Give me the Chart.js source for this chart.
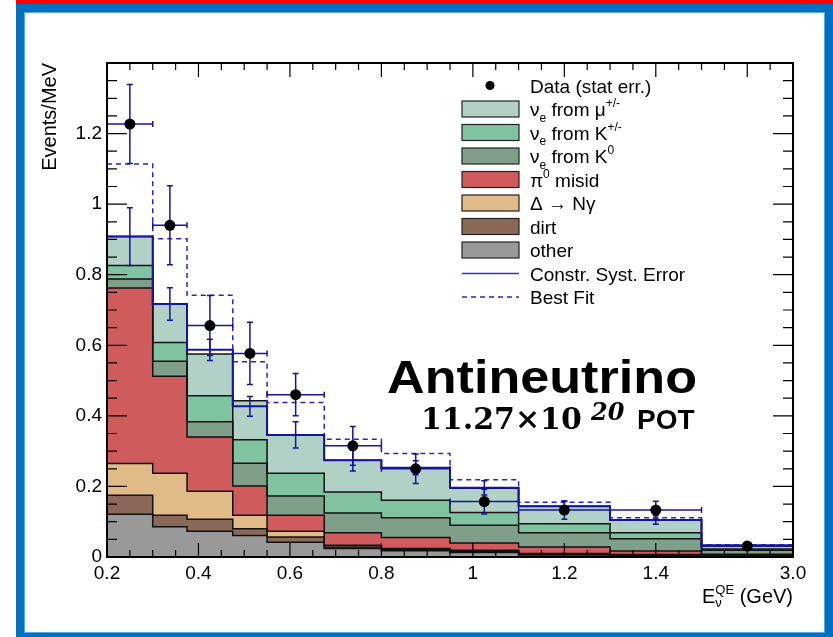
<!DOCTYPE html>
<html>
<head>
<meta charset="utf-8">
<script src="https://cdn.jsdelivr.net/npm/chart.js@4.4.1/dist/chart.umd.min.js"></script>
<style>
  html, body { margin: 0; padding: 0; background: #fff; }
  #wrap { position: relative; width: 833px; height: 637px; overflow: hidden; }
  #topbar { position: absolute; left: 16px; top: 0; width: 817px; height: 4px; background: #ff0000; }
  #frame { position: absolute; left: 16px; top: 4px; width: 817px; height: 633px; box-sizing: border-box;
           border-style: solid; border-color: #0070c0; border-width: 8px 8px 4px 8px; }
  #frame::after { content: ''; position: absolute; left: 0; top: 0; right: 0; bottom: 0; border: 1px solid #5aa9e6; }
  canvas { position: absolute; left: 0; top: 0; }
</style>
</head>
<body>
<div id="wrap">
  <div id="topbar"></div>
  <div id="frame"></div>
  <canvas id="chart" width="833" height="637"></canvas>
</div>
<script>
// bin edges in GeV; the last bin (1.5 - 3.0) is squeezed onto the axis
const binEdges = [0.2, 0.3, 0.375, 0.475, 0.55, 0.675, 0.8, 0.95, 1.1, 1.3, 1.5, 3.0];

// predicted backgrounds in Events/MeV, bottom of the stack first
const other    = [0.121, 0.086, 0.073, 0.061, 0.042, 0.024, 0.018, 0.013, 0.006, 0.004, 0.002];
const dirt     = [0.054, 0.032, 0.034, 0.019, 0.015, 0.004, 0.004, 0.003, 0.002, 0.001, 0.001];
const deltaNg  = [0.090, 0.119, 0.079, 0.038, 0.016, 0.005, 0.002, 0.003, 0.002, 0.002, 0.001];
const pi0Misid = [0.497, 0.275, 0.154, 0.083, 0.045, 0.036, 0.031, 0.021, 0.018, 0.010, 0.004];
const nueK0    = [0.026, 0.043, 0.043, 0.065, 0.055, 0.056, 0.056, 0.050, 0.041, 0.035, 0.011];
const nueKpm   = [0.038, 0.053, 0.074, 0.066, 0.064, 0.059, 0.050, 0.036, 0.025, 0.017, 0.004];
const nueMu    = [0.082, 0.109, 0.118, 0.111, 0.108, 0.090, 0.091, 0.069, 0.050, 0.036, 0.008];

// constrained prediction with its systematic error, and the best fit
const constrPred = [0.908, 0.717, 0.587, 0.427, 0.346, 0.274, 0.253, 0.196, 0.144, 0.105, 0.033];
const constrErr  = [0.082, 0.046, 0.030, 0.028, 0.037, 0.030, 0.020, 0.020, 0.015, 0.012, 0.004];
const bestFit    = [1.114, 0.902, 0.742, 0.553, 0.438, 0.334, 0.293, 0.219, 0.155, 0.111, 0.034];

// data with statistical errors
const dataVals = [1.227, 0.940, 0.656, 0.577, 0.460, 0.315, 0.250, 0.157, 0.133, 0.133, 0.031];
const dataErr  = [0.112, 0.112, 0.085, 0.088, 0.060, 0.055, 0.042, 0.035, 0.026, 0.025, 0.005];

const xTickVals   = [0.2, 0.4, 0.6, 0.8, 1.0, 1.2, 1.4, 1.7];
const xTickLabels = ['0.2', '0.4', '0.6', '0.8', '1', '1.2', '1.4', '3.0'];
const yTickVals   = [0, 0.2, 0.4, 0.6, 0.8, 1.0, 1.2];
const yTickLabels = ['0', '0.2', '0.4', '0.6', '0.8', '1', '1.2'];

const FONT = '"Liberation Sans", Arial, Helvetica, sans-serif';
const BLUE = '#1414a0';
const DASH_BLUE = '#2525d0';

const colors = {
  mu: '#b1d0c6', kpm: '#80c3a0', k0: '#809f8b', pi0: '#d05b5d',
  delta: '#e0bb88', dirt: '#8b6959', other: '#999999'
};

// axis break: 0.2-1.5 GeV linear, 1.5-3.0 GeV drawn in 0.2 of axis length
function axisX(e) {
  return e <= 1.5 ? e : 1.5 + (e - 1.5) * 0.2 / 1.5;
}

function steps(vals, fromZero) {
  const pts = vals.map((v, i) => ({ x: axisX(binEdges[i]), y: v }));
  pts.push({ x: axisX(binEdges[binEdges.length - 1]), y: vals[vals.length - 1] });
  if (fromZero) pts.unshift({ x: axisX(binEdges[0]), y: 0 });
  return pts;
}

const binCenters = binEdges.slice(0, -1).map((e, i) => axisX((e + binEdges[i + 1]) / 2));

const layers = [
  { label: 'other', vals: other, color: colors.other },
  { label: 'dirt', vals: dirt, color: colors.dirt },
  { label: 'Delta -> N gamma', vals: deltaNg, color: colors.delta },
  { label: 'pi0 misid', vals: pi0Misid, color: colors.pi0 },
  { label: 'nue from K0', vals: nueK0, color: colors.k0 },
  { label: 'nue from K+/-', vals: nueKpm, color: colors.kpm },
  { label: 'nue from mu+/-', vals: nueMu, color: colors.mu }
];

const running = dataVals.map(() => 0);
const stackSets = layers.map((l, k) => {
  l.vals.forEach((v, i) => { running[i] += v; });
  return {
    type: 'line',
    label: l.label,
    data: steps(running.slice()),
    stepped: true,
    fill: k === 0 ? 'origin' : '-1',
    backgroundColor: l.color,
    borderColor: '#111',
    borderWidth: 1.5,
    pointRadius: 0,
    order: 3
  };
});

const datasets = stackSets.concat([
  {
    type: 'line', label: 'Best Fit', data: steps(bestFit),
    stepped: true, fill: false, borderColor: DASH_BLUE, borderWidth: 1.5,
    borderDash: [5, 4], pointRadius: 0, order: 2
  },
  {
    type: 'line', label: 'Constr. Syst. Error', data: steps(constrPred, true),
    stepped: true, fill: false, borderColor: BLUE, borderWidth: 2,
    pointRadius: 0, order: 1
  },
  {
    type: 'scatter', label: 'Data (stat err.)',
    data: dataVals.map((v, i) => ({ x: binCenters[i], y: v })),
    pointRadius: 5.5, pointBackgroundColor: '#000', pointBorderColor: '#000',
    pointBorderWidth: 0, order: 0
  }
]);

function vBar(ctx, x, y1, y2, cap) {
  ctx.moveTo(x, y1); ctx.lineTo(x, y2);
  ctx.moveTo(x - cap, y1); ctx.lineTo(x + cap, y1);
  ctx.moveTo(x - cap, y2); ctx.lineTo(x + cap, y2);
}

function hBar(ctx, x1, x2, y, cap) {
  ctx.moveTo(x1, y); ctx.lineTo(x2, y);
  ctx.moveTo(x1, y - cap); ctx.lineTo(x1, y + cap);
  ctx.moveTo(x2, y - cap); ctx.lineTo(x2, y + cap);
}

// text with sub- and superscripts: parts are [text, 'sub' | 'sup' | undefined]
function drawRich(ctx, x, y, parts, size) {
  ctx.textBaseline = 'alphabetic';
  ctx.textAlign = 'left';
  const small = Math.round(size * 0.65);
  let cx = x;
  parts.forEach(p => {
    ctx.font = (p[1] ? small : size) + 'px ' + FONT;
    const dy = p[1] === 'sub' ? size * 0.3 : p[1] === 'sup' ? -size * 0.45 : 0;
    ctx.fillText(p[0], cx, y + dy);
    cx += ctx.measureText(p[0]).width;
  });
  return cx;
}

const legendRows = [
  { kind: 'dot', text: [['Data (stat err.)']] },
  { kind: 'box', color: colors.mu, text: [['\u03BD'], ['e', 'sub'], [' from \u03BC'], ['+/-', 'sup']] },
  { kind: 'box', color: colors.kpm, text: [['\u03BD'], ['e', 'sub'], [' from K'], ['+/-', 'sup']] },
  { kind: 'box', color: colors.k0, text: [['\u03BD'], ['e', 'sub'], [' from K'], ['0', 'sup']] },
  { kind: 'box', color: colors.pi0, text: [['\u03C0'], ['0', 'sup'], [' misid']] },
  { kind: 'box', color: colors.delta, text: [['\u0394 \u2192 N\u03B3']] },
  { kind: 'box', color: colors.dirt, text: [['dirt']] },
  { kind: 'box', color: colors.other, text: [['other']] },
  { kind: 'line', text: [['Constr. Syst. Error']] },
  { kind: 'dash', text: [['Best Fit']] }
];

const decor = {
  id: 'decor',
  beforeDatasetDraw(chart, args) {
    if (args.meta.label !== 'Data (stat err.)') return;
    const { ctx } = chart;
    const sx = chart.scales.x, sy = chart.scales.y;
    ctx.save();
    ctx.strokeStyle = BLUE;
    ctx.lineWidth = 1.5;
    ctx.beginPath();
    dataVals.forEach((v, i) => {
      const x1 = sx.getPixelForValue(axisX(binEdges[i]));
      const x2 = sx.getPixelForValue(axisX(binEdges[i + 1]));
      const y = sy.getPixelForValue(v);
      hBar(ctx, x1, x2, y, 3);
      vBar(ctx, sx.getPixelForValue(binCenters[i]),
        sy.getPixelForValue(v + dataErr[i]), sy.getPixelForValue(v - dataErr[i]), 3);
    });
    ctx.stroke();
    ctx.restore();
  },
  afterDatasetDraw(chart, args) {
    if (args.meta.label !== 'Constr. Syst. Error') return;
    const { ctx } = chart;
    const sx = chart.scales.x, sy = chart.scales.y;
    ctx.save();
    ctx.strokeStyle = BLUE;
    ctx.lineWidth = 1.5;
    ctx.beginPath();
    constrPred.forEach((v, i) => {
      vBar(ctx, sx.getPixelForValue(binCenters[i]),
        sy.getPixelForValue(v + constrErr[i]), sy.getPixelForValue(v - constrErr[i]), 3);
    });
    ctx.stroke();
    ctx.restore();
  },
  afterDatasetsDraw(chart) {
    const { ctx, chartArea: a } = chart;
    const sx = chart.scales.x, sy = chart.scales.y;
    ctx.save();
    // ticks on all four sides, pointing inward
    ctx.strokeStyle = '#000';
    ctx.lineWidth = 1.2;
    ctx.beginPath();
    for (let k = 0; k <= 30; k++) {
      const px = sx.getPixelForValue(0.2 + 0.05 * k);
      const len = k % 4 === 0 ? 14 : 7;
      ctx.moveTo(px, a.bottom); ctx.lineTo(px, a.bottom - len);
      ctx.moveTo(px, a.top); ctx.lineTo(px, a.top + len);
    }
    for (let k = 0; k <= 28; k++) {
      const py = sy.getPixelForValue(0.05 * k);
      const len = k % 4 === 0 ? 20 : 10;
      ctx.moveTo(a.left, py); ctx.lineTo(a.left + len, py);
      ctx.moveTo(a.right, py); ctx.lineTo(a.right - len, py);
    }
    ctx.stroke();
    ctx.lineWidth = 2;
    ctx.strokeRect(a.left, a.top, a.right - a.left, a.bottom - a.top);
    ctx.restore();
  },
  afterDraw(chart) {
    const { ctx, chartArea: a } = chart;
    ctx.save();
    ctx.fillStyle = '#000';

    // y title, right-aligned at the top of the axis
    ctx.save();
    ctx.translate(50, a.top);
    ctx.rotate(-Math.PI / 2);
    ctx.font = '20px ' + FONT;
    ctx.textAlign = 'right';
    ctx.textBaseline = 'middle';
    ctx.fillText('Events/MeV', 0, 0);
    ctx.restore();

    // x title: E_nu^QE (GeV)
    const size = 20, small = 13;
    ctx.font = size + 'px ' + FONT;
    const wE = ctx.measureText('E').width;
    const wG = ctx.measureText(' (GeV)').width;
    ctx.font = small + 'px ' + FONT;
    const wQ = ctx.measureText('QE').width;
    const x0 = a.right - (wE + wQ + wG);
    const base = 603;
    ctx.textAlign = 'left';
    ctx.textBaseline = 'alphabetic';
    ctx.font = size + 'px ' + FONT;
    ctx.fillText('E', x0, base);
    ctx.fillText(' (GeV)', x0 + wE + wQ, base);
    ctx.font = small + 'px ' + FONT;
    ctx.fillText('QE', x0 + wE, base - 9);
    ctx.fillText('\u03BD', x0 + wE, base + 4);

    // legend
    const rowY = 85.5, rowH = 23.5, boxL = 462, boxR = 519, textX = 530;
    legendRows.forEach((r, i) => {
      const y = rowY + i * rowH;
      if (r.kind === 'dot') {
        ctx.beginPath();
        ctx.arc(490, y, 4.5, 0, Math.PI * 2);
        ctx.fillStyle = '#000';
        ctx.fill();
      } else if (r.kind === 'box') {
        ctx.fillStyle = r.color;
        ctx.fillRect(boxL, y - 8, boxR - boxL, 16);
        ctx.strokeStyle = '#222';
        ctx.lineWidth = 1.2;
        ctx.strokeRect(boxL, y - 8, boxR - boxL, 16);
      } else {
        ctx.beginPath();
        ctx.strokeStyle = r.kind === 'line' ? '#3030c0' : DASH_BLUE;
        ctx.lineWidth = 1.5;
        ctx.setLineDash(r.kind === 'dash' ? [5, 4] : []);
        ctx.moveTo(boxL, y); ctx.lineTo(boxR, y);
        ctx.stroke();
        ctx.setLineDash([]);
      }
      ctx.fillStyle = '#000';
      drawRich(ctx, textX, y + 7, r.text, 19);
    });

    // run label, stretched to the width of the original bold caption
    ctx.fillStyle = '#000';
    ctx.textAlign = 'left';
    ctx.textBaseline = 'alphabetic';
    ctx.font = 'bold 47px ' + FONT;
    const wAnti = ctx.measureText('Antineutrino').width;
    ctx.save();
    ctx.translate(387, 393);
    ctx.scale(310 / wAnti, 1);
    ctx.fillText('Antineutrino', 0, 0);
    ctx.restore();
    ctx.font = 'bold 30px "DejaVu Serif", serif';
    ctx.fillText('11.27\u00D710', 421, 429);
    ctx.font = 'italic bold 24px "DejaVu Serif", serif';
    ctx.fillText('20', 591, 420);
    ctx.font = 'bold 28px ' + FONT;
    ctx.fillText('POT', 637, 429);
    ctx.restore();
  }
};

new Chart(document.getElementById('chart').getContext('2d'), {
  type: 'line',
  data: { datasets: datasets },
  options: {
    responsive: false,
    animation: false,
    events: [],
    layout: { padding: { left: 0, right: 40, top: 63, bottom: 0 } },
    plugins: {
      legend: { display: false },
      tooltip: { enabled: false },
      filler: { drawTime: 'beforeDatasetsDraw' }
    },
    scales: {
      x: {
        type: 'linear',
        min: 0.2,
        max: 1.7,
        afterBuildTicks: s => { s.ticks = xTickVals.map(v => ({ value: v })); },
        afterFit: s => { s.height = 80; },
        grid: { display: false, drawTicks: false },
        border: { display: false },
        ticks: {
          autoSkip: false, maxRotation: 0, padding: 5, color: '#000',
          font: { family: FONT, size: 19 },
          callback: (v, i) => xTickLabels[i]
        }
      },
      y: {
        type: 'linear',
        min: 0,
        max: 1.4,
        afterBuildTicks: s => { s.ticks = yTickVals.map(v => ({ value: v })); },
        afterFit: s => { s.width = 107; },
        grid: { display: false, drawTicks: false },
        border: { display: false },
        ticks: {
          padding: 5, color: '#000',
          font: { family: FONT, size: 19 },
          callback: (v, i) => yTickLabels[i]
        }
      }
    }
  },
  plugins: [decor]
});
</script>
</body>
</html>
